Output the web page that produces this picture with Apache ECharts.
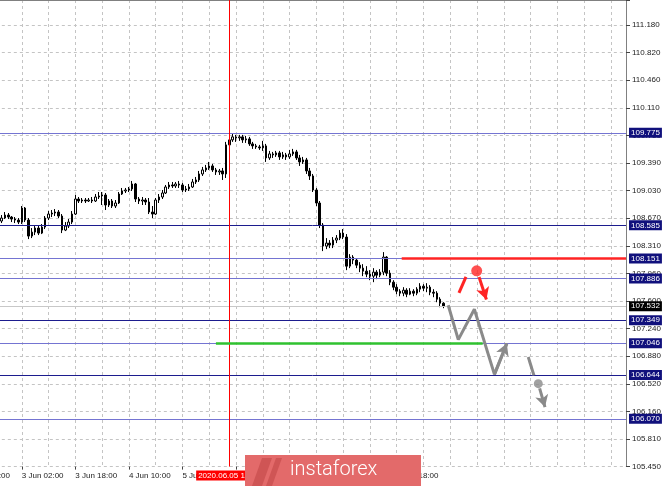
<!DOCTYPE html>
<html><head><meta charset="utf-8">
<script src="https://cdn.jsdelivr.net/npm/echarts@6/dist/echarts.min.js"></script>
<style>html,body{margin:0;padding:0;background:#fff}#c{width:665px;height:486px}</style>
</head><body><div id="c"></div>
<script>
// ---- data ----
const OPEN=[108.636,108.675,108.714,108.688,108.662,108.649,108.623,108.805,108.649,108.441,
108.493,108.545,108.480,108.558,108.675,108.727,108.740,108.753,108.701,108.519,
108.571,108.623,108.727,108.922,108.896,108.909,108.896,108.909,108.896,108.948,
108.961,108.974,108.844,108.896,108.831,108.870,108.987,109.026,109.039,109.052,
109.117,108.922,108.896,108.909,108.883,108.753,108.727,108.909,108.948,109.000,
109.078,109.104,109.091,109.117,109.104,109.039,109.052,109.078,109.143,109.169,
109.247,109.299,109.325,109.351,109.299,109.273,109.286,109.247,109.624,109.689,
109.728,109.715,109.728,109.689,109.702,109.637,109.611,109.598,109.585,109.611,
109.455,109.507,109.494,109.520,109.468,109.494,109.468,109.507,109.533,109.455,
109.403,109.429,109.286,109.221,109.039,108.870,108.584,108.311,108.350,108.324,
108.389,108.415,108.480,108.428,108.051,108.168,108.129,108.064,108.025,107.986,
107.947,107.921,107.973,107.934,107.973,108.168,107.960,107.843,107.778,107.726,
107.700,107.739,107.687,107.726,107.700,107.752,107.791,107.765,107.778,107.713,
107.700,107.622,107.570];
const CLOSE=[108.675,108.714,108.688,108.662,108.649,108.623,108.805,108.649,108.441,108.493,
108.545,108.480,108.558,108.675,108.727,108.740,108.753,108.701,108.519,108.571,
108.623,108.727,108.922,108.896,108.909,108.896,108.909,108.896,108.948,108.961,
108.974,108.844,108.896,108.831,108.870,108.987,109.026,109.039,109.052,109.117,
108.922,108.896,108.909,108.883,108.753,108.727,108.909,108.948,109.000,109.078,
109.104,109.091,109.117,109.104,109.039,109.052,109.078,109.143,109.169,109.247,
109.299,109.325,109.351,109.299,109.273,109.286,109.247,109.624,109.689,109.728,
109.715,109.728,109.689,109.702,109.637,109.611,109.598,109.585,109.611,109.455,
109.507,109.494,109.520,109.468,109.494,109.468,109.507,109.533,109.455,109.403,
109.429,109.286,109.221,109.039,108.870,108.584,108.311,108.350,108.324,108.389,
108.415,108.480,108.428,108.051,108.168,108.129,108.064,108.025,107.986,107.947,
107.921,107.973,107.934,107.973,108.168,107.960,107.843,107.778,107.726,107.700,
107.739,107.687,107.726,107.700,107.752,107.791,107.765,107.778,107.713,107.700,
107.622,107.570,107.532];
const LOW=[108.610,108.662,108.662,108.623,108.610,108.597,108.597,108.623,108.402,108.415,
108.454,108.454,108.467,108.532,108.649,108.688,108.701,108.675,108.480,108.506,
108.545,108.597,108.714,108.870,108.870,108.870,108.883,108.870,108.883,108.922,
108.844,108.779,108.818,108.805,108.805,108.857,108.974,109.000,109.013,109.026,
108.883,108.857,108.844,108.844,108.727,108.675,108.714,108.870,108.922,108.987,
109.052,109.065,109.065,109.065,109.013,109.013,109.026,109.065,109.117,109.143,
109.221,109.273,109.299,109.273,109.234,109.234,109.169,109.195,109.585,109.663,
109.663,109.676,109.650,109.650,109.611,109.572,109.572,109.559,109.546,109.403,
109.429,109.455,109.468,109.429,109.442,109.429,109.442,109.481,109.429,109.351,
109.377,109.247,109.169,109.013,108.831,108.545,108.246,108.272,108.285,108.285,
108.350,108.389,108.402,107.999,108.025,108.077,108.025,107.973,107.921,107.908,
107.869,107.843,107.882,107.908,107.934,107.921,107.804,107.739,107.687,107.661,
107.661,107.648,107.674,107.661,107.674,107.713,107.726,107.713,107.674,107.648,
107.583,107.518,107.505];
const HIGH=[108.714,108.753,108.740,108.701,108.688,108.675,108.831,108.818,108.675,108.545,
108.571,108.584,108.597,108.701,108.766,108.779,108.792,108.779,108.727,108.623,
108.662,108.766,108.974,108.948,108.935,108.935,108.935,108.948,108.987,109.013,
109.013,109.000,108.922,108.922,108.909,109.013,109.065,109.065,109.078,109.156,
109.130,108.948,108.948,108.935,108.935,108.831,108.935,108.987,109.039,109.104,
109.143,109.143,109.143,109.156,109.130,109.091,109.117,109.182,109.208,109.286,
109.338,109.364,109.403,109.377,109.325,109.312,109.325,109.663,109.767,109.767,
109.754,109.754,109.754,109.741,109.728,109.663,109.637,109.624,109.676,109.637,
109.546,109.533,109.546,109.546,109.533,109.520,109.559,109.572,109.559,109.494,
109.468,109.455,109.325,109.247,109.065,108.896,108.610,108.415,108.389,108.428,
108.454,108.519,108.532,108.467,108.207,108.194,108.155,108.103,108.077,108.051,
107.999,108.025,107.999,108.012,108.233,108.181,107.999,107.869,107.817,107.752,
107.778,107.765,107.765,107.752,107.778,107.830,107.817,107.830,107.804,107.752,
107.726,107.648,107.583];

// hourly sessions (weekend skipped): [month, day, first hour, last hour]
const SESSIONS=[['Jun',2,8,23],['Jun',3,0,23],['Jun',4,0,23],['Jun',5,0,23],['Jun',8,0,23],['Jun',9,0,23],['Jun',10,0,23],['Jun',11,0,23],['Jun',12,0,23]];
const FIRST_CANDLE='2 Jun 20:00';
const TOTAL_BARS=199;

const Y_TICK_LABELS=['105.450','105.810','106.160','106.520','106.880','107.240','107.600','107.960','108.310','108.670','109.030','109.390','109.750','110.110','110.460','110.820','111.180'];
const Y_MIN=105.45, Y_STEP=0.358125, Y_MAX=111.504;

const LEVELS=[109.775,108.585,108.151,107.886,107.349,107.046,106.644,106.070];
const LAST_PRICE=107.532;
const CURSOR_BAR=68, CURSOR_LABEL='2020.06.05 16:00';

// drawings, x in bars from first candle
const GREEN_LINE=[[64.0,107.046],[143.7,107.046]];
const RED_LINE=[[119.5,108.151],[186.5,108.151]];
const GRAY_ZIGZAG=[[133.4,107.544],[136.4,107.098],[141.2,107.492],[147.2,106.647],[150.9,107.048]];
const GRAY_TICK=[[157.3,106.872],[159.0,106.634]];
const GRAY_DOT=[160.3,106.526];
const GRAY_ARROW=[[160.7,106.465],[162.3,106.222]];
const RED_TICK=[[136.6,107.704],[138.7,107.912]];
const RED_DOT=[141.9,107.990];
const RED_ARROW=[[142.6,107.909],[144.8,107.617]];

// ---- build ----
const categories=[];
SESSIONS.forEach(s=>{for(let h=s[2];h<=s[3];h++){categories.push(s[1]+' '+s[0]+' '+String(h).padStart(2,'0')+':00');}});
categories.length=TOTAL_BARS;
const LEAD=categories.indexOf(FIRST_CANDLE);
const LAST_IDX=LEAD+OPEN.length-1;
const candleData=categories.map((c,i)=>{const k=i-LEAD;return (k>=0&&k<OPEN.length)?[OPEN[k],CLOSE[k],LOW[k],HIGH[k]]:'-';});

const PLOT_RIGHT=626;
const BAND=PLOT_RIGHT/(TOTAL_BARS-LEAD);
const FONT='Liberation Sans';
const LEVEL_COLORS=['#7474d2','#1c1c8e','#7474d2','#7474d2','#1c1c8e','#7474d2','#1c1c8e','#7474d2'];
const boxLabel=(bg,txt)=>({show:true,position:'end',distance:3,formatter:txt,
  color:'#fff',backgroundColor:bg,fontFamily:FONT,fontSize:8,lineHeight:9,padding:[1,2,0,2]});

const levelLines=LEVELS.map((v,i)=>({yAxis:v,lineStyle:{color:LEVEL_COLORS[i],width:1,type:'solid'},label:boxLabel('#10107c',v.toFixed(3))}));
levelLines.unshift({yAxis:LAST_PRICE,lineStyle:{color:'#c8c8c8',width:1,type:'solid'},label:boxLabel('#000',LAST_PRICE.toFixed(3))});

const lineSeries=(data,color,w,extra)=>Object.assign({type:'line',xAxisIndex:1,yAxisIndex:0,data:data,symbol:'none',silent:true,
  color:color,lineStyle:{color:color,width:w},z:5,animation:false},extra||{});
const arrow=(seg,color,w)=>lineSeries([],color,w,{markLine:{silent:true,symbol:['none','arrow'],symbolSize:[10,12],
  itemStyle:{color:color},lineStyle:{color:color,width:w,type:'solid'},label:{show:false},
  data:[[{coord:seg[0],lineStyle:{color:color}},{coord:seg[1]}]]}});

const chart=echarts.init(document.getElementById('c'));
chart.setOption({
  animation:false,
  backgroundColor:'#fff',
  grid:{left:-LEAD*BAND,right:665-PLOT_RIGHT,top:0,bottom:19.4,containLabel:false,outerBoundsMode:'none'},
  xAxis:[{type:'category',data:categories,boundaryGap:true,
      axisLine:{show:false},
      axisTick:{show:true,alignWithLabel:true,length:3,lineStyle:{color:'#444'},interval:(i)=>(i-2)%16===0&&i<=LAST_IDX},
      axisLabel:{show:true,align:'left',margin:5,fontFamily:FONT,fontSize:8,color:'#222',
        interval:(i)=>(i-2)%16===0&&i<=LAST_IDX},
      splitLine:{show:true,alignWithLabel:true,interval:(i)=>(i-2)%8===0,lineStyle:{color:'#c4c4c4',type:[3,3],width:1}}},
    {type:'value',position:'top',min:-LEAD-0.5,max:TOTAL_BARS-LEAD-0.5,
      axisLine:{show:true,onZero:false,lineStyle:{color:'#808080',width:1}},axisTick:{show:false},axisLabel:{show:false},splitLine:{show:false}}],
  yAxis:[{type:'value',position:'right',min:Y_MIN,max:Y_MAX,interval:Y_STEP,
    axisLine:{show:true,onZero:false,lineStyle:{color:'#808080',width:1}},
    axisTick:{show:true,length:4,lineStyle:{color:'#444'}},
    axisLabel:{show:true,margin:6,fontFamily:FONT,fontSize:8,color:'#222',padding:[4,0,0,0],
      formatter:(v)=>{const i=Math.round((v-Y_MIN)/Y_STEP);return (i>=0&&i<Y_TICK_LABELS.length&&Math.abs(v-(Y_MIN+i*Y_STEP))<0.01)?Y_TICK_LABELS[i]:'';}},
    splitLine:{show:true,lineStyle:{color:'#c4c4c4',type:[3,3],width:1}}}],
  series:[
    {type:'candlestick',xAxisIndex:0,yAxisIndex:0,data:candleData,barWidth:2,silent:true,
      itemStyle:{color:'#ffffff',color0:'#000000',borderColor:'#000000',borderColor0:'#000000',borderWidth:1},
      markLine:{silent:true,symbol:['none','none'],animation:false,data:levelLines},z:3},
    lineSeries([],'#ff0000',1,{markLine:{silent:true,symbol:['none','none'],
      itemStyle:{color:'#ff0000'},lineStyle:{color:'#ff0000',width:1,type:'solid'},
      label:{show:true,position:'start',distance:4,formatter:CURSOR_LABEL,color:'#fff',backgroundColor:'#ff0000',
        fontFamily:FONT,fontSize:8,lineHeight:9,padding:[1,2,0,2]},
      data:[{xAxis:CURSOR_BAR,lineStyle:{color:'#ff0000',width:1,type:'solid'}}]}}),
    lineSeries(GREEN_LINE,'#2fc22f',2.5),
    lineSeries(RED_LINE,'#ff2424',2.5),
    lineSeries(GRAY_ZIGZAG,'#8a8a8a',3),
    arrow([GRAY_ZIGZAG[3],GRAY_ZIGZAG[4]],'#8a8a8a',3),
    lineSeries(GRAY_TICK,'#8a8a8a',3),
    arrow(GRAY_ARROW,'#8a8a8a',3),
    lineSeries(RED_TICK,'#ff2424',3),
    arrow(RED_ARROW,'#ff2424',3),
    {type:'scatter',xAxisIndex:1,yAxisIndex:0,data:[GRAY_DOT],symbolSize:9,itemStyle:{color:'#8a8a8a'},silent:true,z:6},
    {type:'scatter',xAxisIndex:1,yAxisIndex:0,data:[RED_DOT],symbolSize:11,itemStyle:{color:'#ff2424'},silent:true,z:6}
  ],
  graphic:[
    {type:'rect',z:100,shape:{x:245,y:455,width:176,height:31},style:{fill:'#e36a6a'}},
    {type:'polygon',z:101,shape:{points:[[252,486],[262,458],[272,458],[262,486]]},style:{fill:'#cf5555'}},
    {type:'polygon',z:101,shape:{points:[[266,486],[276,458],[282,458],[272,486]]},style:{fill:'#cf5555'}},
    {type:'text',z:102,style:{text:'instaforex',x:290,y:470,fill:'#ffffff',font:'300 20px Roboto',verticalAlign:'middle'}}
  ]
});
</script></body></html>
